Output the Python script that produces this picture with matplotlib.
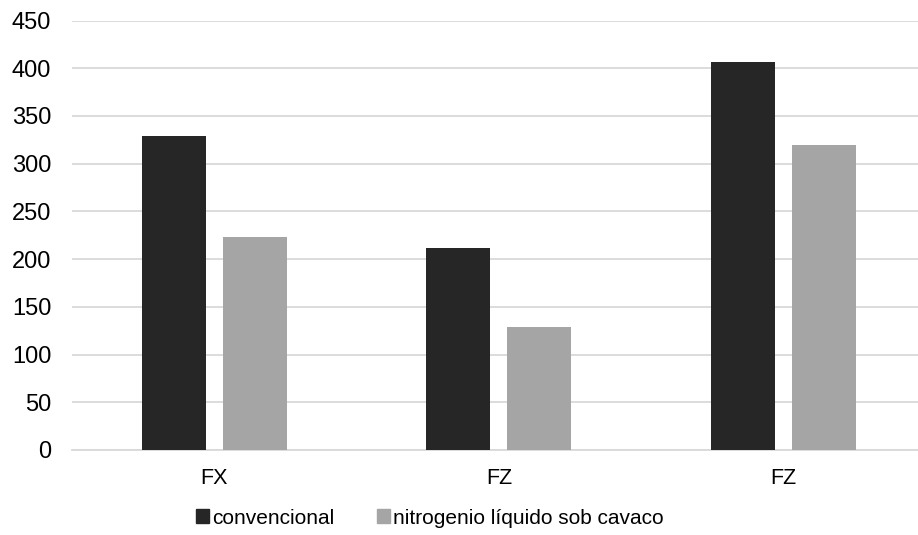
import numpy as np
import matplotlib.pyplot as plt
from matplotlib.patches import Patch

plt.rcParams['font.family'] = ['Liberation Sans', 'DejaVu Sans']

categories = ["FX", "FZ", "FZ"]
convencional = [329, 212, 407]
nitrogenio = [223, 129, 320]
series_names = ["convencional", "nitrogenio líquido sob cavaco"]
colors = ["#262626", "#a5a5a5"]
yticks = [0, 50, 100, 150, 200, 250, 300, 350, 400, 450]

fig = plt.figure(figsize=(9.18, 5.35), dpi=100)
ax = fig.add_axes([72/918, 85/535, 853.8/918, 429.5/535])

x = np.arange(len(categories))
w = 64/284.6
gap = 17/284.6
ax.bar(x - (w + gap)/2, convencional, w, color=colors[0], zorder=3)
ax.bar(x + (w + gap)/2, nitrogenio, w, color=colors[1], zorder=3)

ax.set_xlim(-0.5, 2.5)
ax.set_ylim(0, 450)
ax.set_yticks(yticks)
ax.set_xticks(x)
ax.set_xticklabels(categories)
ax.yaxis.grid(True, color="#d9d9d9", linewidth=1.3, zorder=0)
for s in ["top", "right", "left"]:
    ax.spines[s].set_visible(False)
ax.spines["bottom"].set_color("#d9d9d9")
ax.spines["bottom"].set_linewidth(1.3)
ax.tick_params(axis="both", length=0, colors="black")
ax.tick_params(axis="y", pad=15, labelsize=17)
ax.tick_params(axis="x", pad=13, labelsize=15.5)

handles = [Patch(color=c) for c in colors]
fig.legend(handles, series_names, loc="center", bbox_to_anchor=(430/918, 1 - 518/535),
           ncol=2, frameon=False, fontsize=15, handlelength=0.62, handleheight=0.62,
           handletextpad=0.15, columnspacing=2.07)

fig.savefig("out.png", dpi=100)
